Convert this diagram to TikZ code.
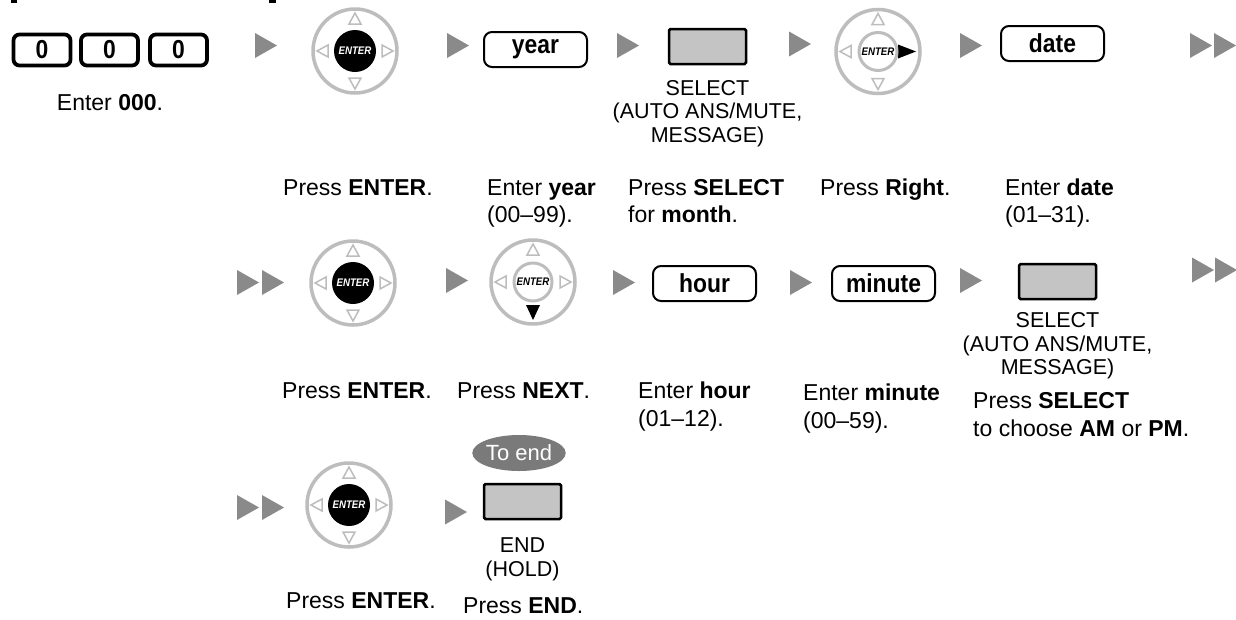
\documentclass[tikz,border=0pt]{standalone}
\usepackage{fontspec}
\usetikzlibrary{shapes.geometric}
\setmainfont{Liberation Sans}
\newfontfamily\condfont[FakeStretch=0.88]{Liberation Sans}
\definecolor{arrowgray}{HTML}{8A8A8A}
\definecolor{ringgray}{HTML}{BDBDBD}
\definecolor{btngray}{HTML}{C4C4C4}
\definecolor{ovalgray}{HTML}{7A7A7A}
\tikzset{
  lbl/.style={inner sep=0pt, anchor=base west, font=\fontsize{23}{27}\selectfont},
  lblc/.style={inner sep=0pt, anchor=base, font=\fontsize{23}{27}\selectfont},
  capt/.style={inner sep=0pt, anchor=base, font=\fontsize{21.5}{24}\selectfont},
  entrybox/.style={draw=black, line width=2pt, rounded corners=8pt, fill=white, inner sep=0pt,
    minimum width=103pt, minimum height=35pt, font=\condfont\bfseries\fontsize{26}{26}\selectfont},
  keybox/.style={draw=black, line width=3.8pt, rounded corners=6pt, inner sep=0pt,
    minimum width=57pt, minimum height=31pt, font=\condfont\bfseries\fontsize{26}{26}\selectfont},
  grayrect/.style={draw=black, line width=2.5pt, fill=btngray, rounded corners=1.5pt, inner sep=0pt,
    minimum width=77pt, minimum height=35pt},
  entertxt/.style={inner sep=0pt, font=\condfont\bfseries\itshape\fontsize{11}{11}\selectfont},
}
\newcommand\ptri[2]{\fill[arrowgray] (#1,#2-12.5) -- (#1+22,#2) -- (#1,#2+12.5) -- cycle;}
% name, x, y, type (0 enter, 1 right, 2 down)
\newcommand\navbtn[4]{%
  \begin{scope}[shift={(#2,#3)}]
    \draw[ringgray, line width=3.5pt] (0,0) circle[radius=42pt];
    \draw[ringgray, line width=1.5pt] (0,-38) -- (-6,-27) -- (6,-27) -- cycle;
    \draw[ringgray, line width=1.5pt] (-38,0) -- (-27,-6) -- (-27,6) -- cycle;
    \ifnum#4=1\relax
      \fill[black] (20,-7) -- (38,0) -- (20,7) -- cycle;
    \else
      \draw[ringgray, line width=1.5pt] (38,0) -- (27,-6) -- (27,6) -- cycle;
    \fi
    \ifnum#4=2\relax
      \fill[black] (-7,23) -- (0,38) -- (7,23) -- cycle;
    \else
      \draw[ringgray, line width=1.5pt] (0,38) -- (-6,27) -- (6,27) -- cycle;
    \fi
    \ifnum#4=0\relax
      \fill[black] (0,0) circle[radius=21pt];
      \node[entertxt, text=white] (#1) at (0,0) {ENTER};
    \else
      \draw[ringgray, line width=3pt] (0,0) circle[radius=19pt];
      \node[entertxt, text=black] (#1) at (0,0) {ENTER};
    \fi
  \end{scope}}
\begin{document}
\begin{tikzpicture}[x=1pt, y=-1pt]
\useasboundingbox (0,0) rectangle (1236,619);
\fill[white] (0,0) rectangle (1236,619);
% cut-off heading brackets (only their lower ends are visible)
\fill[black] (11,0) -- (17,0) -- (17,3) -- (11,3) -- cycle;
\fill[black] (269,0) -- (276,0) -- (276,3) -- (269,3) -- cycle;

% ---------- Row 1 ----------
\node[keybox] (k1) at (42,50) {0};
\node[keybox] (k2) at (109.5,50) {0};
\node[keybox] (k3) at (178.5,50) {0};
\node[lblc] (t000) at (110,110) {Enter \textbf{000}.};

\ptri{255}{45.5}
\navbtn{enterA}{355}{51}{0}
\node[lbl] (pA) at (283,195) {Press \textbf{ENTER}.};

\ptri{447}{45.5}
\node[entrybox] (year) at (535.5,49.5) {year};
\node[lbl] (yA) at (487,195) {Enter \textbf{year}};
\node[lbl] (yB) at (487,222) {(00–99).};

\ptri{617}{45.5}
\node[grayrect] (selA) at (707.5,46.5) {};
\node[capt] (sA1) at (707.5,95) {SELECT};
\node[capt] (sA2) at (707.5,118.5) {(AUTO ANS/MUTE,};
\node[capt] (sA3) at (707.5,142) {MESSAGE)};
\node[lbl] (mA) at (628,195) {Press \textbf{SELECT}};
\node[lbl] (mB) at (628,222) {for \textbf{month}.};

\ptri{789}{44}
\navbtn{rightA}{878}{51.5}{1}
\node[lbl] (rA) at (820,195) {Press \textbf{Right}.};

\ptri{960}{45.5}
\node[entrybox] (date) at (1052.5,43.5) {date};
\node[lbl] (dA) at (1005,195) {Enter \textbf{date}};
\node[lbl] (dB) at (1005,222) {(01–31).};

\ptri{1190}{45.5}
\ptri{1214}{45.5}

% ---------- Row 2 ----------
\ptri{237}{282.5}
\ptri{262}{282.5}
\navbtn{enterB}{353}{283}{0}
\node[lbl] (pB) at (282,398) {Press \textbf{ENTER}.};

\ptri{446}{280.5}
\navbtn{nextB}{533}{282}{2}
\node[lbl] (nB) at (457,398) {Press \textbf{NEXT}.};

\ptri{613}{282.5}
\node[entrybox] (hour) at (704.5,283.5) {hour};
\node[lbl] (hA) at (638,398) {Enter \textbf{hour}};
\node[lbl] (hB) at (638,426) {(01–12).};

\ptri{790}{282.5}
\node[entrybox] (minute) at (883.5,283.5) {minute};
\node[lbl] (miA) at (803,400) {Enter \textbf{minute}};
\node[lbl] (miB) at (803,428) {(00–59).};

\ptri{960}{280.5}
\node[grayrect] (selB) at (1057.5,281.5) {};
\node[capt] (sB1) at (1057.5,327.5) {SELECT};
\node[capt] (sB2) at (1057.5,351) {(AUTO ANS/MUTE,};
\node[capt] (sB3) at (1057.5,374.5) {MESSAGE)};
\node[lbl] (amA) at (973,408) {Press \textbf{SELECT}};
\node[lbl] (amB) at (973,436) {to choose \textbf{AM} or \textbf{PM}.};

\ptri{1192}{270}
\ptri{1215}{270}

% ---------- Row 3 ----------
\ptri{237}{507.5}
\ptri{262}{507.5}
\navbtn{enterC}{349}{505}{0}
\node[lbl] (pC) at (286,608) {Press \textbf{ENTER}.};

\node[ellipse, fill=ovalgray, minimum width=92pt, minimum height=36pt, inner sep=0pt,
  text=white, font=\fontsize{22}{22}\selectfont] (toend) at (519,453) {To end};
\ptri{445}{512}
\node[grayrect] (endbtn) at (522.5,501.5) {};
\node[capt] (eA) at (522.5,552.5) {END};
\node[capt] (eB) at (522.5,576) {(HOLD)};
\node[lbl] (eC) at (463,613) {Press \textbf{END}.};
\end{tikzpicture}
\end{document}
